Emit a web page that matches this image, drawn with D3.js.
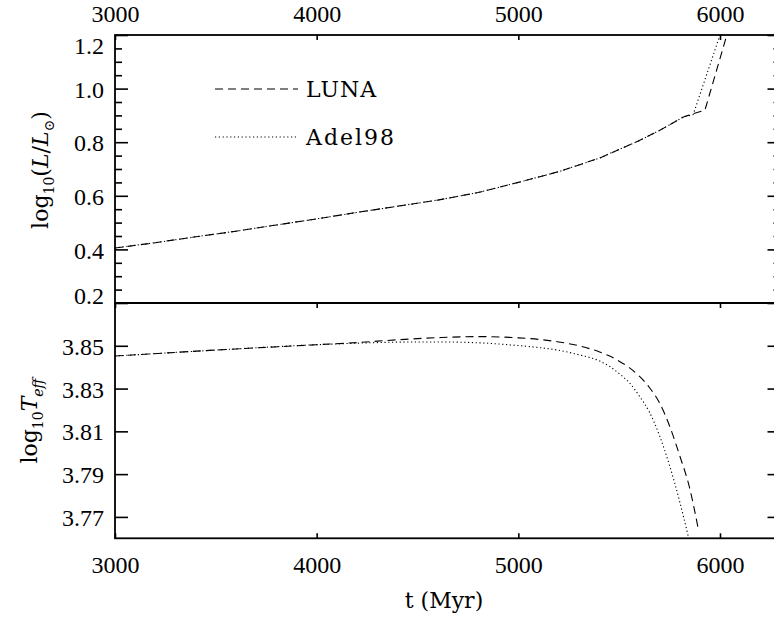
<!DOCTYPE html>
<html><head><meta charset="utf-8">
<script src="https://cdn.jsdelivr.net/npm/d3@7"></script>
<style>body{margin:0;background:#fff;} svg{display:block;} .num text{font-family:'Liberation Serif','Times New Roman',serif;}</style>
</head><body>
<svg id="c" width="774" height="617"></svg>
<script>
// ---- data ----
const xTicks = [3000, 4000, 5000, 6000];
const lumTicks = [0.2, 0.4, 0.6, 0.8, 1.0, 1.2];
const teffTicks = [3.77, 3.79, 3.81, 3.83, 3.85];
const seriesNames = ["LUNA", "Adel98"];

// top panel: log10(L/Lsun)
const lunaLumT = [3000, 3200, 3400, 3600, 3800, 4000, 4200, 4400, 4600, 4800, 5000, 5200, 5400, 5500, 5600, 5700, 5750, 5818, 5870, 5925, 6034, 6080];
const lunaLum  = [0.405, 0.425, 0.447, 0.468, 0.491, 0.514, 0.538, 0.561, 0.584, 0.612, 0.650, 0.690, 0.740, 0.773, 0.806, 0.844, 0.865, 0.894, 0.907, 0.919, 1.200, 1.320];
const adelLumT = [3000, 3200, 3400, 3600, 3800, 4000, 4200, 4400, 4600, 4800, 5000, 5200, 5400, 5500, 5600, 5700, 5750, 5818, 5867, 6000, 6040];
const adelLum  = [0.405, 0.425, 0.447, 0.468, 0.491, 0.514, 0.538, 0.561, 0.584, 0.612, 0.650, 0.690, 0.740, 0.773, 0.806, 0.844, 0.865, 0.894, 0.903, 1.200, 1.300];

// bottom panel: log10 Teff
const lunaTeffT = [3000, 3500, 4000, 4200, 4400, 4600, 4800, 5000, 5100, 5200, 5300, 5400, 5450, 5500, 5550, 5600, 5650, 5700, 5750, 5800, 5850, 5892];
const lunaTeff  = [3.8452, 3.8480, 3.8505, 3.8515, 3.8528, 3.8538, 3.8543, 3.8537, 3.8530, 3.8518, 3.8500, 3.8472, 3.8453, 3.8428, 3.8398, 3.8358, 3.8305, 3.8233, 3.8125, 3.7987, 3.7833, 3.7645];
const adelTeffT = [3000, 3500, 4000, 4200, 4400, 4600, 4800, 5000, 5100, 5200, 5300, 5400, 5450, 5500, 5550, 5600, 5650, 5700, 5750, 5800, 5843];
const adelTeff  = [3.8452, 3.8480, 3.8505, 3.8512, 3.8517, 3.8518, 3.8514, 3.8501, 3.8492, 3.8479, 3.8458, 3.8430, 3.8405, 3.8370, 3.8328, 3.8265, 3.8190, 3.8080, 3.7940, 3.7772, 3.7608];

// ---- layout ----
const svg = d3.select("#c");
const L = 115, R = 780.5, T1 = 35, B1 = 303, T2 = 303, B2 = 538.3;
const font = "'DejaVu Serif', serif";

const x = d3.scaleLinear().domain([3000, 6300]).range([L, R]);
const y1 = d3.scaleLinear().domain([0.2, 1.2]).range([B1, T1]);
const y2 = d3.scaleLinear().domain([3.76, 3.87]).range([B2, T2]);

const defs = svg.append("defs");
defs.append("clipPath").attr("id","cp1").append("rect").attr("x",L).attr("y",T1).attr("width",R-L).attr("height",B1-T1);
defs.append("clipPath").attr("id","cp2").append("rect").attr("x",L).attr("y",T2).attr("width",R-L).attr("height",B2-T2);

function styleAxis(g, withText){
  g.attr("class","num").attr("font-family",null).attr("font-size",null);
  g.select(".domain").remove();
  g.selectAll(".tick line").attr("stroke","#000").attr("stroke-width",1.6);
  g.selectAll("text").attr("fill","#000").style("font-size","24px");
  if(!withText) g.selectAll("text").remove();
}

function frame(t,b){
  svg.append("rect").attr("x",L).attr("y",t).attr("width",R-L).attr("height",b-t)
    .attr("fill","none").attr("stroke","#000").attr("stroke-width",1.8);
}

// x axes
svg.append("g").attr("transform",`translate(0,${T1})`)
  .call(d3.axisTop(x).tickValues(xTicks).tickSize(-5).tickFormat(d3.format("d")))
  .call(g=>styleAxis(g,true))
  .call(g=>g.selectAll("text").attr("dy",0).attr("y",-13));
svg.append("g").attr("transform",`translate(0,${B1})`)
  .call(d3.axisBottom(x).tickValues(xTicks).tickSize(5).tickFormat(""))
  .call(g=>styleAxis(g,false));
svg.append("g").attr("transform",`translate(0,${B2})`)
  .call(d3.axisBottom(x).tickValues(xTicks).tickSize(-5).tickFormat(d3.format("d")))
  .call(g=>styleAxis(g,true))
  .call(g=>g.selectAll("text").attr("dy",0).attr("y",35));

// y axes top panel
const lumMinor = d3.range(0.25, 1.2, 0.05).filter(v=>Math.abs(Math.round(v*5)-v*5)>1e-6);
svg.append("g").attr("transform",`translate(${L},0)`)
  .call(d3.axisLeft(y1).tickValues(lumMinor).tickSize(-7).tickFormat(""))
  .call(g=>styleAxis(g,false));
svg.append("g").attr("transform",`translate(${L},0)`)
  .call(d3.axisLeft(y1).tickValues(lumTicks).tickSize(-13).tickFormat(d3.format(".1f")))
  .call(g=>styleAxis(g,true))
  .call(g=>g.selectAll("text").attr("x",-11).attr("dy","0.36em"))
  .call(g=>g.selectAll(".tick").filter(d=>d===1.2).select("text").attr("dy","0.78em"))
  .call(g=>g.selectAll(".tick").filter(d=>d===0.2).select("text").attr("dy","0.02em"));
svg.append("g").attr("transform",`translate(${R},0)`)
  .call(d3.axisRight(y1).tickValues(lumMinor).tickSize(-7).tickFormat(""))
  .call(g=>styleAxis(g,false));
svg.append("g").attr("transform",`translate(${R},0)`)
  .call(d3.axisRight(y1).tickValues(lumTicks).tickSize(-13).tickFormat(""))
  .call(g=>styleAxis(g,false));

// y axes bottom panel
svg.append("g").attr("transform",`translate(${L},0)`)
  .call(d3.axisLeft(y2).tickValues(teffTicks).tickSize(-13).tickFormat(d3.format(".2f")))
  .call(g=>styleAxis(g,true))
  .call(g=>g.selectAll("text").attr("x",-11).attr("dy","0.36em"));
svg.append("g").attr("transform",`translate(${R},0)`)
  .call(d3.axisRight(y2).tickValues(teffTicks).tickSize(-13).tickFormat(""))
  .call(g=>styleAxis(g,false));

frame(T1,B1); frame(T2,B2);

// curves
const dashLuna = "8,5", dashAdel = "1.2,2.6";
const lineLin1 = d3.line().x(d=>x(d[0])).y(d=>y1(d[1]));
const line2 = d3.line().x(d=>x(d[0])).y(d=>y2(d[1])).curve(d3.curveMonotoneX);

const g1 = svg.append("g").attr("clip-path","url(#cp1)");
g1.append("path").datum(d3.zip(lunaLumT, lunaLum)).attr("d",lineLin1)
  .attr("fill","none").attr("stroke","#000").attr("stroke-width",1.1).attr("stroke-dasharray",dashLuna);
g1.append("path").datum(d3.zip(adelLumT, adelLum)).attr("d",lineLin1)
  .attr("fill","none").attr("stroke","#000").attr("stroke-width",1.1).attr("stroke-dasharray",dashAdel);

const g2 = svg.append("g").attr("clip-path","url(#cp2)");
g2.append("path").datum(d3.zip(lunaTeffT, lunaTeff)).attr("d",line2)
  .attr("fill","none").attr("stroke","#000").attr("stroke-width",1.1).attr("stroke-dasharray",dashLuna);
g2.append("path").datum(d3.zip(adelTeffT, adelTeff)).attr("d",line2)
  .attr("fill","none").attr("stroke","#000").attr("stroke-width",1.1).attr("stroke-dasharray",dashAdel);

// legend
const legY = [89, 137], legDash = [dashLuna, dashAdel];
seriesNames.forEach((n,i)=>{
  svg.append("line").attr("x1",215).attr("x2",298).attr("y1",legY[i]).attr("y2",legY[i])
    .attr("stroke","#000").attr("stroke-width",1.1).attr("stroke-dasharray",legDash[i]);
  svg.append("text").attr("x",306).attr("y",legY[i]).attr("dy","0.36em")
    .attr("font-family",font).attr("font-size",22).attr("letter-spacing", i===1 ? 2 : 1).text(n);
});

// axis titles
svg.append("text").attr("x",444).attr("y",600).attr("dy","0.36em").attr("text-anchor","middle")
  .attr("font-family",font).attr("font-size",22).text("t (Myr)");

const yt1 = svg.append("text").attr("transform","translate(48,170) rotate(-90)").attr("text-anchor","middle")
  .attr("font-family",font).attr("font-size",22);
yt1.append("tspan").text("log");
yt1.append("tspan").attr("font-size",14).attr("dy",6).text("10");
yt1.append("tspan").attr("dy",-6).text("(");
yt1.append("tspan").attr("font-style","italic").text("L");
yt1.append("tspan").text("/");
yt1.append("tspan").attr("font-style","italic").text("L");
yt1.append("tspan").attr("font-size",14).attr("dy",6).text("\u2299");
yt1.append("tspan").attr("dy",-6).text(")");

const yt2 = svg.append("text").attr("transform","translate(37,421) rotate(-90)").attr("text-anchor","middle")
  .attr("font-family",font).attr("font-size",22);
yt2.append("tspan").text("log");
yt2.append("tspan").attr("font-size",14).attr("dy",6).text("10");
yt2.append("tspan").attr("dy",-6).attr("font-style","italic").text("T");
yt2.append("tspan").attr("font-size",14).attr("dy",6).attr("font-style","italic").text("eff");
</script>
</body></html>
